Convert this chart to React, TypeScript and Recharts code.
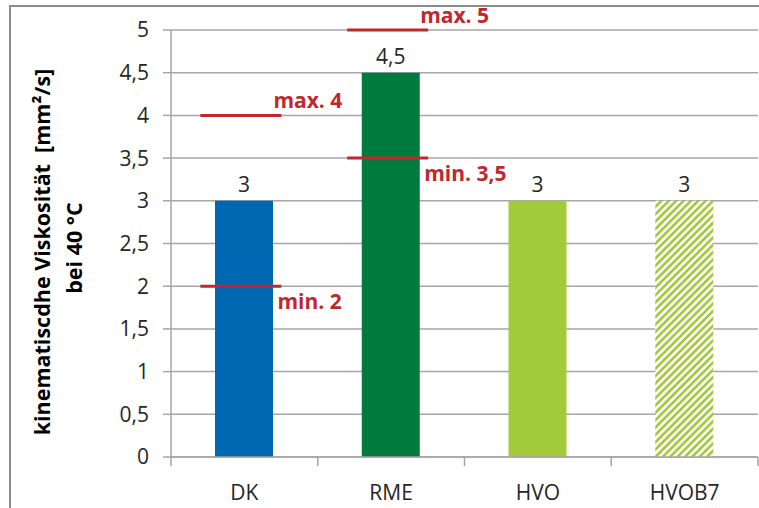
import {
  Bar,
  CartesianGrid,
  Cell,
  ComposedChart,
  LabelList,
  Scatter,
  XAxis,
  YAxis,
} from "recharts";

// Kinematic viscosity at 40 °C per fuel, with the norm limits for DK and RME.
const FUELS = ["DK", "RME", "HVO", "HVOB7"];
const VISCOSITY = [3, 4.5, 3, 3];
const LIMIT_MAX: (number | null)[] = [4, 5, null, null];
const LIMIT_MIN: (number | null)[] = [2, 3.5, null, null];
const Y_TICKS = [0, 0.5, 1, 1.5, 2, 2.5, 3, 3.5, 4, 4.5, 5];
const BAR_FILLS = ["#0067B2", "#007A3D", "#A3CA3A", "url(#hvoHatch)"];

const data = FUELS.map((name, i) => ({
  name,
  value: VISCOSITY[i],
  max: LIMIT_MAX[i],
  min: LIMIT_MIN[i],
}));

const FONT = "'Open Sans', sans-serif";
const TEXT = "#262626";
const GRID = "#a6a6a6";
const LIMIT_RED = "#C1272D";
const WIDTH = 759;
const HEIGHT = 508;
const AXIS_W = 171;
const MARGIN_RIGHT = 1;
const BAND = (WIDTH - AXIS_W - MARGIN_RIGHT) / FUELS.length;

const de = (v: number) => String(v).replace(".", ",");

function FuelTick(props: any) {
  const { x, y, payload, index } = props;
  const left = x - BAND / 2;
  return (
    <g>
      <line x1={left} x2={left} y1={y} y2={y + 9} stroke={GRID} strokeWidth={1.5} />
      {index === FUELS.length - 1 && (
        <line x1={x + BAND / 2} x2={x + BAND / 2} y1={y} y2={y + 9} stroke={GRID} strokeWidth={1.5} />
      )}
      <text x={x} y={y + 43} textAnchor="middle" fontFamily={FONT} fontSize={21} fill={TEXT}>
        {payload.value}
      </text>
    </g>
  );
}

// Short red limit bar beside each category centre plus its caption.
function limitMark(kind: "max" | "min") {
  return (props: any) => {
    const { cx, cy, payload } = props;
    const v = payload?.[kind];
    if (v == null || !Number.isFinite(cy)) return <g />;
    const labelY = kind === "max" ? cy - 7 : cy + 23;
    return (
      <g>
        <line x1={cx - 44} x2={cx + 37} y1={cy} y2={cy} stroke={LIMIT_RED} strokeWidth={3} />
        <text
          x={cx + (kind === "max" ? 29 : 33)}
          y={labelY}
          fontFamily={FONT}
          fontSize={21}
          fontWeight={700}
          fill={LIMIT_RED}
        >
          {`${kind}. ${de(v)}`}
        </text>
      </g>
    );
  };
}

function AxisTitle() {
  return (
    <g fontFamily={FONT} fontSize={21.5} fontWeight={700} fill="#000">
      <text x={50} y={252} textAnchor="middle" transform="rotate(-90 50 252)">
        {"kinematiscdhe Viskosität\u00a0\u00a0[mm²/s]"}
      </text>
      <text x={82} y={248} textAnchor="middle" transform="rotate(-90 82 248)">
        bei 40 °C
      </text>
    </g>
  );
}

export default function App() {
  return (
    <div
      style={{
        position: "absolute",
        left: 0,
        top: 0,
        width: WIDTH,
        height: HEIGHT,
        overflow: "hidden",
        background: "#fff",
      }}
    >
      <div
        style={{
          position: "absolute",
          left: 9,
          top: 5,
          width: WIDTH,
          height: HEIGHT,
          borderTop: "2px solid #8c8c8c",
          borderLeft: "2px solid #8c8c8c",
        }}
      />
      <div style={{ position: "absolute", left: 0, top: 0 }}>
        <ComposedChart
          width={WIDTH}
          height={HEIGHT}
          data={data}
          margin={{ top: 30, right: MARGIN_RIGHT, bottom: 0, left: 0 }}
        >
          <defs>
            <pattern
              id="hvoHatch"
              width={5.2}
              height={5.2}
              patternUnits="userSpaceOnUse"
              patternTransform="rotate(45)"
            >
              <rect width={5.2} height={5.2} fill="#fff" />
              <rect width={2.6} height={5.2} fill="#A3CA3A" />
            </pattern>
          </defs>
          <CartesianGrid vertical={false} stroke={GRID} strokeWidth={1.5} />
          <XAxis
            dataKey="name"
            height={51}
            tickLine={false}
            tickSize={0}
            tickMargin={0}
            axisLine={{ stroke: GRID, strokeWidth: 1.5 }}
            tick={<FuelTick />}
            interval={0}
          />
          <YAxis
            width={AXIS_W}
            domain={[0, 5]}
            ticks={Y_TICKS}
            tickFormatter={de}
            tickSize={8}
            tickMargin={14}
            axisLine={{ stroke: GRID, strokeWidth: 1.5 }}
            tickLine={{ stroke: GRID, strokeWidth: 1.5 }}
            tick={{ fontFamily: FONT, fontSize: 21, fill: TEXT }}
            label={<AxisTitle />}
          />
          <Bar dataKey="value" barSize={58} isAnimationActive={false}>
            {data.map((d, i) => (
              <Cell key={d.name} fill={BAR_FILLS[i]} />
            ))}
            <LabelList
              dataKey="value"
              position="top"
              offset={9}
              formatter={(v: any) => de(Number(v))}
              style={{ fontFamily: FONT, fontSize: 21, fill: TEXT }}
            />
          </Bar>
          <Scatter dataKey="max" shape={limitMark("max")} isAnimationActive={false} />
          <Scatter dataKey="min" shape={limitMark("min")} isAnimationActive={false} />
        </ComposedChart>
      </div>
    </div>
  );
}
